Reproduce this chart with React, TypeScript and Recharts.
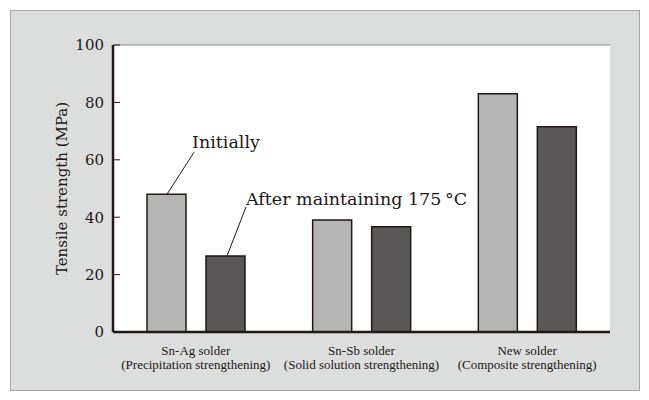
import { BarChart, Bar, XAxis, YAxis, CartesianGrid, ReferenceLine } from 'recharts'

const categories = ['Sn-Ag solder', 'Sn-Sb solder', 'New solder']
const mechanisms = ['(Precipitation strengthening)', '(Solid solution strengthening)', '(Composite strengthening)']
const initially = [48, 39, 83]
const after175 = [26.5, 36.7, 71.5]
const yTicks = [0, 20, 40, 60, 80, 100]
const notes = ['Initially', 'After maintaining 175\u2009\u00b0C']

const INK = '#231815'
const LIGHT = '#b5b5b6'
const DARK = '#595757'
const SERIF = '"DejaVu Serif", serif'
const NARROW = '"Liberation Serif", serif'

const data = categories.map((c, i) => ({ name: c, init: initially[i], after: after175[i] }))

// two-line category label
const CatTick = ({ x, y, payload }: any) => {
  const i = categories.indexOf(payload.value)
  return (
    <text x={x} y={y} textAnchor="middle" fill={INK} fontFamily={NARROW} fontSize={13}>
      <tspan x={x} dy={15}>{payload.value}</tspan>
      <tspan x={x} dy={14}>{mechanisms[i]}</tspan>
    </text>
  )
}

const initLabel = (p: any) => {
  if (p.index !== 0) return null
  return (
    <g>
      <line x1={p.x + 20} y1={p.y} x2={p.x + 47} y2={p.y - 42} stroke={INK} strokeWidth={1} />
      <text x={p.x + 45} y={p.y - 46} fill={INK} fontFamily={SERIF} fontSize={17.5}>{notes[0]}</text>
    </g>
  )
}

const afterLabel = (p: any) => {
  if (p.index !== 0) return null
  return (
    <g>
      <line x1={p.x + 21} y1={p.y} x2={p.x + 40} y2={p.y - 49} stroke={INK} strokeWidth={1} />
      <text x={p.x + 40} y={p.y - 51} fill={INK} fontFamily={SERIF} fontSize={17.5}>{notes[1]}</text>
    </g>
  )
}

export default function App() {
  return (
    <div style={{ position: 'relative', width: 649, height: 400, background: '#fff' }}>
      <style>{'body{margin:0}'}</style>
      <div style={{ position: 'absolute', left: 10, top: 10, width: 628, height: 379, background: '#dcdddd', border: '1px solid #a5a5a5' }} />
      <div style={{ position: 'absolute', left: 0, top: 0 }}>
        <BarChart width={649} height={400} data={data} margin={{ top: 45, right: 39, bottom: 38, left: 0 }} barSize={39} barGap={20}>
          <CartesianGrid fill="#fff" horizontal={false} vertical={false} />
          <ReferenceLine y={100} yAxisId="l" stroke="#8a8a8a" strokeWidth={1} />
          <XAxis dataKey="name" height={30} tick={<CatTick />} tickLine={false} axisLine={{ stroke: INK, strokeWidth: 2.5 }} />
          <YAxis yAxisId="l" domain={[0, 100]} ticks={yTicks} width={113} tickSize={-7} tickMargin={16}
            tick={{ fill: INK, fontFamily: SERIF, fontSize: 15 }} tickLine={{ stroke: INK }} axisLine={{ stroke: INK, strokeWidth: 2.5 }}
            label={{ value: 'Tensile strength (MPa)', angle: -90, position: 'insideLeft', offset: 0, dx: 62, style: { textAnchor: 'middle', fill: INK, fontFamily: SERIF, fontSize: 15 } }} />
          <YAxis yAxisId="r" orientation="right" domain={[0, 100]} width={0} tick={false} tickLine={false} axisLine={{ stroke: '#8a8a8a' }} />
          <Bar yAxisId="l" dataKey="init" fill={LIGHT} stroke={INK} strokeWidth={1.5} isAnimationActive={false} label={initLabel} />
          <Bar yAxisId="l" dataKey="after" fill={DARK} stroke={INK} strokeWidth={1.5} isAnimationActive={false} label={afterLabel} />
        </BarChart>
      </div>
    </div>
  )
}
